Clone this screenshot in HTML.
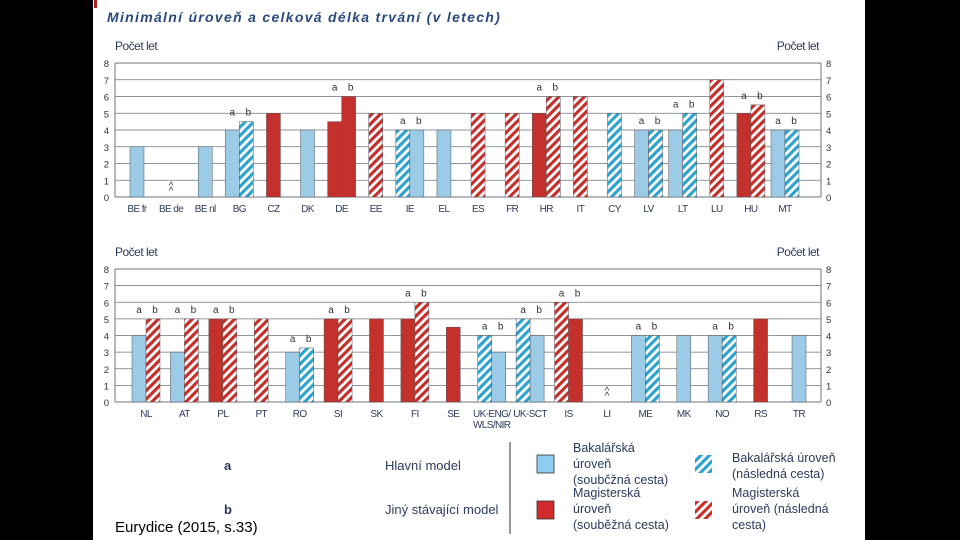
<!DOCTYPE html>
<html><head><meta charset="utf-8"><style>
html,body{margin:0;padding:0;background:#000;}
body{width:960px;height:540px;overflow:hidden;position:relative;font-family:"Liberation Sans",sans-serif;}
#panel{position:absolute;left:93px;top:0;width:772px;height:540px;background:#fff;}
svg{position:absolute;left:0;top:0;}
</style></head><body>
<div id="panel"></div>
<svg id="chart" width="960" height="540">
<defs>
<pattern id="hb" patternUnits="userSpaceOnUse" width="6" height="6" patternTransform="rotate(45)"><rect width="6" height="6" fill="#fff"/><rect width="3.2" height="6" fill="#2ea3cc"/></pattern>
<pattern id="hr" patternUnits="userSpaceOnUse" width="6" height="6" patternTransform="rotate(45)"><rect width="6" height="6" fill="#fff"/><rect width="3.2" height="6" fill="#c4302b"/></pattern>
</defs>
<rect x="94" y="0" width="3" height="8" fill="#b0201c"/>
<text x="107" y="22" font-size="14" font-weight="bold" font-style="italic" fill="#2b4a7c" letter-spacing="1.3">Minimální úroveň a celková délka trvání (v letech)</text>
<g id="g1"></g><g id="g2"></g>
<g fill="#2b3a5c" font-size="13">
<text x="224" y="470" font-weight="bold">a</text>
<text x="224" y="514" font-weight="bold">b</text>
<text x="385" y="470">Hlavní model</text>
<text x="385" y="514">Jiný stávající model</text>
<line x1="510" y1="442" x2="510" y2="534" stroke="#333" stroke-width="1"/>
<rect x="537" y="455" width="17" height="18" fill="#8ecdf0" stroke="#333" stroke-width="0.8"/>
<text x="573" y="452" font-size="12.5"><tspan x="573">Bakalářská</tspan><tspan x="573" dy="16">úroveň</tspan><tspan x="573" dy="16">(soubčžná cesta)</tspan></text>
<rect x="537" y="501" width="17" height="18" fill="#d02a2a" stroke="#333" stroke-width="0.8"/>
<text x="573" y="497" font-size="12.5"><tspan x="573">Magisterská</tspan><tspan x="573" dy="16">úroveň</tspan><tspan x="573" dy="16">(souběžná cesta)</tspan></text>
<rect x="695" y="455" width="17" height="18" fill="url(#hb)"/>
<text x="732" y="462" font-size="12.5"><tspan x="732">Bakalářská úroveň</tspan><tspan x="732" dy="16">(následná cesta)</tspan></text>
<rect x="695" y="501" width="17" height="18" fill="url(#hr)"/>
<text x="732" y="497" font-size="12.5"><tspan x="732">Magisterská</tspan><tspan x="732" dy="16">úroveň (následná</tspan><tspan x="732" dy="16">cesta)</tspan></text>
</g>
<text x="115" y="532" font-size="15" fill="#000">Eurydice (2015, s.33)</text>
</svg>
<script>
// Types: L=light blue solid, B=blue hatched, R=red solid, H=red hatched
const topCats=["BE fr","BE de","BE nl","BG","CZ","DK","DE","EE","IE","EL","ES","FR","HR","IT","CY","LV","LT","LU","HU","MT"];
const topA=[3,null,3,4,5,4,4.5,5,4,4,5,5,5,6,5,4,4,7,5,4];
const topAType=["L","","L","L","R","L","R","H","B","L","H","H","R","H","B","L","L","H","R","L"];
const topB=[null,null,null,4.5,null,null,6,null,4,null,null,null,6,null,null,4,5,null,5.5,4];
const topBType=["","","","B","","","R","","L","","","","H","","","B","B","","H","B"];
const botCats=["NL","AT","PL","PT","RO","SI","SK","FI","SE","UK-ENG/|WLS/NIR","UK-SCT","IS","LI","ME","MK","NO","RS","TR"];
const botA=[4,3,5,5,3,5,5,5,4.5,4,5,6,null,4,4,4,5,4];
const botAType=["L","L","R","H","L","R","R","R","R","B","B","H","","L","L","L","R","L"];
const botB=[5,5,5,null,3.25,5,null,6,null,3,4,5,null,4,null,4,null,null];
const botBType=["H","H","H","","B","H","","H","","L","L","R","","B","","B","",""];
const missingTop=["BE de"], missingBot=["LI"];
const yTicks=[0,1,2,3,4,5,6,7,8];

const NS="http://www.w3.org/2000/svg";
const fills={L:"#9ccbe8",B:"url(#hb)",R:"#c4302b",H:"url(#hr)"};
function mk(tag,attrs,parent){const e=document.createElementNS(NS,tag);for(const k in attrs)e.setAttribute(k,attrs[k]);parent.appendChild(e);return e;}

function draw(g,cfg){
  const {cats,A,AT,B,BT,x0,x1,first,last,y0,y8,missing,prefix}=cfg;
  const ys=v=>y0-(y0-y8)*v/8;
  const step=(last-first)/(cats.length-1);
  const xs=i=>first+i*step;
  const bw=14;
  yTicks.forEach(t=>{
    const ln=mk("line",{x1:x0,x2:x1,y1:ys(t),y2:ys(t),stroke:"#6b7380","stroke-width":t==0||t==8?1:0.8},g);
    
    
    const tl=mk("text",{x:x0-6,y:ys(t)+4,"font-size":9.5,fill:"#333","text-anchor":"end"},g);tl.textContent=t;
    
    
    const tr=mk("text",{x:x1+5,y:ys(t)+4,"font-size":9.5,fill:"#333"},g);tr.textContent=t;
    
    
  });
  mk("line",{x1:x1,x2:x1,y1:y8,y2:y0,stroke:"#6b7380","stroke-width":1},g);
  mk("line",{x1:x0,x2:x0,y1:y8,y2:y0,stroke:"#6b7380","stroke-width":1},g);
  const t1=mk("text",{x:x0,y:y8-13,"font-size":12,fill:"#2b3a5c","letter-spacing":-0.5},g);t1.textContent="Počet let";
  
  
  const t2=mk("text",{x:x1-2,y:y8-13,"font-size":12,fill:"#2b3a5c","text-anchor":"end","letter-spacing":-0.5},g);t2.textContent="Počet let";
  
  
  cats.forEach((c,i)=>{
    const cx=xs(i);
    const parts=c.split("|");
    parts.forEach((p,k)=>{
      const lb=mk("text",{x:cx,y:y0+15+k*11,"font-size":10,fill:"#2b3a5c","text-anchor":"middle","letter-spacing":-0.6},g);lb.textContent=p;
      
      
    });
    if(missing.includes(c)){
      const m=mk("text",{x:cx,y:y0-3,"font-size":10,fill:"#333","text-anchor":"middle"},g);m.textContent="^";
      
      
      const m2=mk("text",{x:cx,y:y0-8,"font-size":10,fill:"#333","text-anchor":"middle"},g);m2.textContent="^";
      
      
    }
    const pair=B[i]!=null;
    const bars=[];
    if(A[i]!=null) bars.push([A[i],AT[i],pair?cx-bw:cx-bw/2,"a"]);
    if(pair) bars.push([B[i],BT[i],cx,"b"]);
    bars.forEach(([v,ty,bx,lab])=>{
      const r=mk("rect",{x:bx,y:ys(v),width:bw,height:y0-ys(v),fill:fills[ty],stroke:"#555","stroke-width":0.5},g);
      
      
    });
    if(pair){
      const top=ys(Math.max(A[i],B[i]));
      const la=mk("text",{x:cx-bw/2,y:top-6,"font-size":10,fill:"#333","text-anchor":"middle"},g);la.textContent="a";
      
      
      const lbb=mk("text",{x:cx+bw/2+2,y:top-6,"font-size":10,fill:"#333","text-anchor":"middle"},g);lbb.textContent="b";
      
      
    }
  });
}
draw(document.getElementById("g1"),{cats:topCats,A:topA,AT:topAType,B:topB,BT:topBType,x0:115,x1:821,first:137,last:785,y0:197,y8:63,missing:missingTop,prefix:"top"});
draw(document.getElementById("g2"),{cats:botCats,A:botA,AT:botAType,B:botB,BT:botBType,x0:115,x1:821,first:146,last:799,y0:402,y8:269,missing:missingBot,prefix:"bottom"});
</script>
</body></html>
